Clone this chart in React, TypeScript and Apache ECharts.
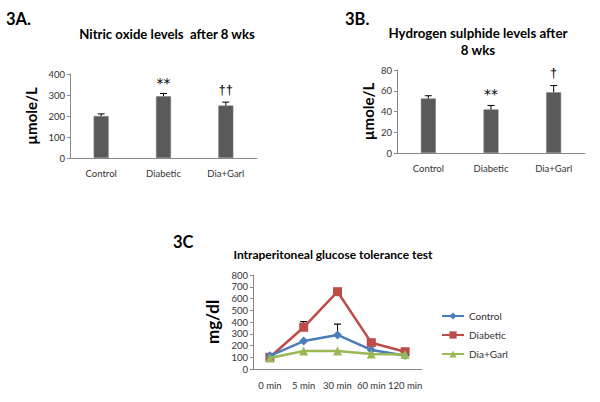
import React, { useEffect, useRef } from "react";
import * as echarts from "echarts";

const barCategories = ["Control", "Diabetic", "Dia+Garl"];
const noValues = [200, 294, 250];
const noErrTop = [210, 307, 266];
const noMarks = ["", "**", "††"];
const h2sValues = [52.6, 42, 58.5];
const h2sErrTop = [55.2, 45.8, 65];
const h2sMarks = ["", "**", "†"];

const timeCategories = ["0 min", "5 min", "30 min", "60 min", "120 min"];
const controlValues = [112, 238, 290, 162, 115];
const diabeticValues = [100, 355, 658, 224, 147];
const diaGarlValues = [93, 153, 153, 128, 123];
const controlErrTop = [null, null, 382, null, null];
const diabeticErrTop = [null, 403, null, null, null];

const FONT = "Lato, 'Liberation Sans', sans-serif";
const STAR_FONT = "'DejaVu Sans', sans-serif";
const DAGGER_FONT = "'Liberation Sans', sans-serif";
const AXIS_GRAY = "#898989";
const TEXT = "#333333";
const BAR = "#5a5a5a";
const BLUE = "#4a7ebb";
const RED = "#be4b48";
const GREEN = "#98b954";

function errBarSeries(idx: number, means: number[], tops: number[], marks: string[]) {
  return {
    type: "custom",
    xAxisIndex: idx,
    yAxisIndex: idx,
    silent: true,
    z: 5,
    data: means.map((m, i) => [i, m, tops[i]]),
    renderItem: (params: any, api: any) => {
      const i = api.value(0);
      const p1 = api.coord([i, api.value(1)]);
      const p2 = api.coord([i, api.value(2)]);
      const children: any[] = [
        { type: "line", shape: { x1: p1[0], y1: p1[1], x2: p2[0], y2: p2[1] }, style: { stroke: "#000", lineWidth: 1 } },
        { type: "line", shape: { x1: p2[0] - 3.5, y1: p2[1], x2: p2[0] + 3.5, y2: p2[1] }, style: { stroke: "#000", lineWidth: 1 } },
      ];
      const mk = marks[params.dataIndex];
      if (mk) {
        const star = mk.indexOf("*") >= 0;
        children.push({
          type: "text",
          x: p2[0],
          y: p2[1] - (star ? 11 : 13),
          style: {
            text: mk,
            fill: "#000000",
            opacity: 1,
            font: star ? `14px ${STAR_FONT}` : `13px ${DAGGER_FONT}`,
            align: "center",
            verticalAlign: "middle",
            textAlign: "center",
            textVerticalAlign: "middle",
          },
        });
      }
      return { type: "group", children };
    },
  };
}

function lineErrSeries(tops: (number | null)[], means: number[]) {
  const data: any[] = [];
  tops.forEach((t, i) => {
    if (t != null) data.push([i, means[i], t]);
  });
  return {
    type: "custom",
    xAxisIndex: 2,
    yAxisIndex: 2,
    silent: true,
    z: 1,
    data,
    renderItem: (params: any, api: any) => {
      const i = api.value(0);
      const p1 = api.coord([i, api.value(1)]);
      const p2 = api.coord([i, api.value(2)]);
      return {
        type: "group",
        children: [
          { type: "line", shape: { x1: p1[0], y1: p1[1], x2: p2[0], y2: p2[1] }, style: { stroke: "#000", lineWidth: 1 } },
          { type: "line", shape: { x1: p2[0] - 3.5, y1: p2[1], x2: p2[0] + 3.5, y2: p2[1] }, style: { stroke: "#000", lineWidth: 1.2 } },
        ],
      };
    },
  };
}

function yAxis(idx: number, max: number, interval: number, name: string, nameGap: number, nameSize: number) {
  return {
    type: "value",
    gridIndex: idx,
    min: 0,
    max,
    interval,
    name,
    nameLocation: "middle",
    nameRotate: 90,
    nameGap,
    nameTextStyle: { fontFamily: FONT, fontWeight: "bold", fontSize: nameSize, color: "#000" },
    axisLine: { show: true, lineStyle: { color: AXIS_GRAY, width: 1 } },
    axisTick: { show: true, length: 3, lineStyle: { color: AXIS_GRAY } },
    axisLabel: { fontFamily: FONT, fontSize: 9.5, color: TEXT, margin: 5 },
    splitLine: { show: false },
  };
}

function xAxis(idx: number, data: string[], margin: number) {
  return {
    type: "category",
    gridIndex: idx,
    data,
    boundaryGap: true,
    axisLine: { show: true, lineStyle: { color: AXIS_GRAY, width: 1 } },
    axisTick: { show: false },
    axisLabel: { fontFamily: FONT, fontSize: 9.5, color: TEXT, margin, interval: 0 },
  };
}

function txt(text: string, x: number, y: number, size: number, align = "center", lineHeight?: number) {
  return {
    type: "text",
    x,
    y,
    style: {
      text,
      fill: "#000",
      font: `bold ${size}px ${FONT}`,
      align,
      verticalAlign: "middle",
      textAlign: align,
      textVerticalAlign: "middle",
      lineHeight: lineHeight || size * 1.2,
    },
  };
}

export default function App() {
  const ref = useRef<HTMLDivElement>(null);
  useEffect(() => {
    if (!ref.current) return;
    const chart = echarts.init(ref.current, null, { renderer: "svg" });
    chart.setOption({
      animation: false,
      backgroundColor: "#fff",
      textStyle: { fontFamily: FONT },
      grid: [
        { left: 70, top: 74, width: 187, height: 84 },
        { left: 397, top: 70, width: 188, height: 83 },
        { left: 253, top: 275, width: 169, height: 94 },
      ],
      xAxis: [xAxis(0, barCategories, 10), xAxis(1, barCategories, 10), xAxis(2, timeCategories, 11)],
      yAxis: [
        yAxis(0, 400, 100, "µmole/L", 32, 15),
        yAxis(1, 80, 20, "µmole/L", 22, 15),
        yAxis(2, 800, 100, "mg/dl", 32, 17),
      ],
      legend: {
        orient: "vertical",
        left: 436,
        top: 306,
        itemWidth: 22,
        itemHeight: 9,
        itemGap: 9,
        textStyle: { fontFamily: FONT, fontSize: 10, color: TEXT },
        data: ["Control", "Diabetic", "Dia+Garl"],
      },
      graphic: [
        txt("3A.", 6, 19, 16.5, "left"),
        txt("Nitric oxide levels  after 8 wks", 167, 34, 13.2),
        txt("3B.", 345, 19, 16.5, "left"),
        txt("Hydrogen sulphide levels after\n8 wks", 478, 41, 13.3, "center", 17),
        txt("3C", 173, 242, 16.5, "left"),
        txt("Intraperitoneal glucose tolerance test", 333, 254, 12),
      ],
      series: [
        { type: "bar", xAxisIndex: 0, yAxisIndex: 0, data: noValues, barWidth: 15, itemStyle: { color: BAR, borderColor: "#7a7a7a", borderWidth: 0.6 } },
        errBarSeries(0, noValues, noErrTop, noMarks),
        { type: "bar", xAxisIndex: 1, yAxisIndex: 1, data: h2sValues, barWidth: 15, itemStyle: { color: BAR, borderColor: "#7a7a7a", borderWidth: 0.6 } },
        errBarSeries(1, h2sValues, h2sErrTop, h2sMarks),
        lineErrSeries(controlErrTop, controlValues),
        lineErrSeries(diabeticErrTop, diabeticValues),
        { name: "Control", type: "line", xAxisIndex: 2, yAxisIndex: 2, data: controlValues, symbol: "diamond", symbolSize: 9, lineStyle: { color: BLUE, width: 2.5 }, itemStyle: { color: BLUE }, z: 3 },
        { name: "Diabetic", type: "line", xAxisIndex: 2, yAxisIndex: 2, data: diabeticValues, symbol: "rect", symbolSize: 9, lineStyle: { color: RED, width: 2.5 }, itemStyle: { color: RED }, z: 2 },
        { name: "Dia+Garl", type: "line", xAxisIndex: 2, yAxisIndex: 2, data: diaGarlValues, symbol: "triangle", symbolSize: 9, lineStyle: { color: GREEN, width: 2.5 }, itemStyle: { color: GREEN }, z: 4 },
      ],
    });
    return () => chart.dispose();
  }, []);
  return <div ref={ref} style={{ position: "fixed", left: 0, top: 0, width: 600, height: 402 }} />;
}
